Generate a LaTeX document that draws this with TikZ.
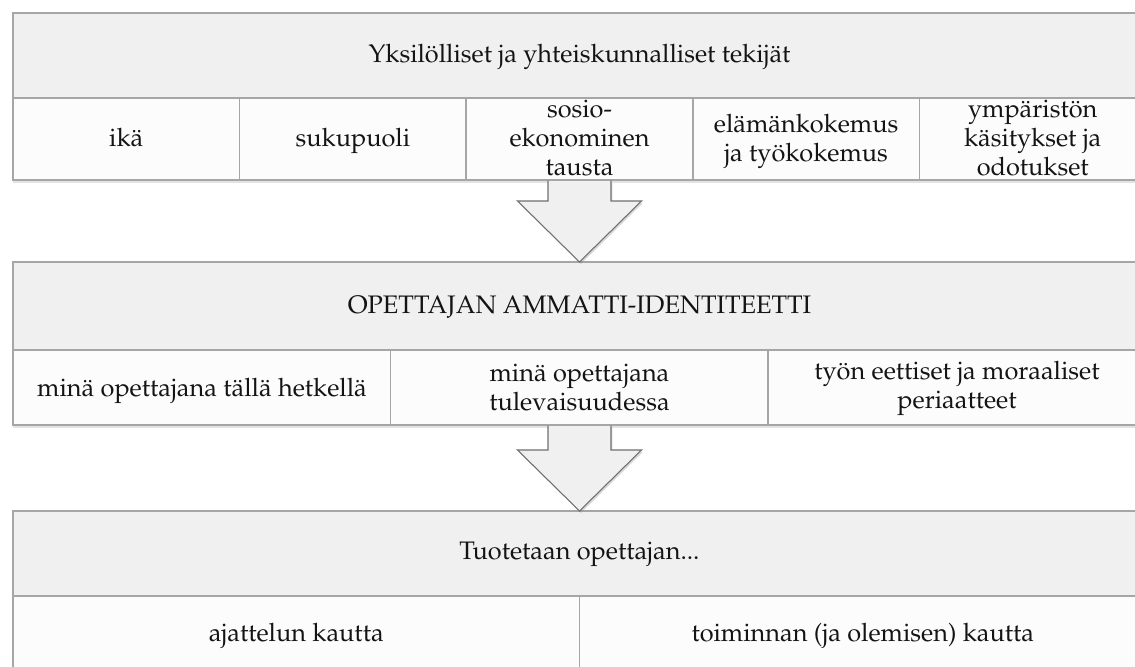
\documentclass[tikz,border=0pt]{standalone}
\usepackage[T1]{fontenc}
\usepackage{mathpazo}
\usetikzlibrary{shadows,calc}
\definecolor{hdr}{HTML}{F0F0F0}
\definecolor{cellf}{HTML}{FCFCFC}
\definecolor{bord}{HTML}{A6A6A6}
\definecolor{arrd}{HTML}{707070}
\tikzset{
  box/.style={draw=bord, line width=1.1pt, inner sep=0pt, outer sep=0pt},
  blockbox/.style={box, fill=cellf, drop shadow={opacity=0.22, shadow xshift=0pt, shadow yshift=-2pt}},
  hdrbox/.style={box, fill=hdr},
  cellbox/.style={box, fill=cellf},
  txt/.style={inner sep=0pt, align=center, font=\fontsize{19}{21.75}\selectfont, text=black!92},
  arrowfill/.style={fill=hdr, drop shadow={opacity=0.3, shadow xshift=1pt, shadow yshift=-1.5pt}},
  arrowline/.style={draw=arrd, line width=0.8pt, line join=miter},
}
\begin{document}
\begin{tikzpicture}[x=0.75pt,y=-0.75pt]
\useasboundingbox (0,0) rectangle (1135,667);
\clip (0,0) rectangle (1135,667);
\fill[white] (0,0) rectangle (1135,667);

% ---------- block 1 ----------
\node[blockbox, minimum width=849.75pt, minimum height=125.25pt] (bk1) at (579.5,96.5) {};
\node[hdrbox, minimum width=849.75pt, minimum height=63.75pt] (h1) at (579.5,55.5) {};
\foreach \i/\cx in {1/126.3,2/352.9,3/579.5,4/806.1,5/1032.7}{
  \node[cellbox, minimum width=169.95pt, minimum height=61.5pt] (c\i) at (\cx,139) {};
}
\node[txt] (th1) at ($(h1.center)+(0,1)$) {Yksilölliset ja yhteiskunnalliset tekijät};
\node[txt] (t1) at ($(c1.center)+(0,2)$) {\strut ikä};
\node[txt] (t2) at ($(c2.center)+(0,2)$) {\strut sukupuoli};
\begin{scope}
  \clip (c3.north west) rectangle (c3.south east);
  \node[txt] (t3) at ($(c3.center)+(0,2)$) {\strut sosio-\\\strut ekonominen\\\strut tausta};
\end{scope}
\node[txt] (t4) at ($(c4.center)+(0,2)$) {\strut elämänkokemus\\\strut ja työkokemus};
\begin{scope}
  \clip (c5.north west) rectangle (c5.south east);
  \node[txt] (t5) at ($(c5.center)+(0,2)$) {\strut ympäristön\\\strut käsitykset ja\\\strut odotukset};
\end{scope}
\draw[box] (c1.north west) -- (c1.south west);

% ---------- block 2 ----------
\node[blockbox, minimum width=849.75pt, minimum height=122.25pt] (bk2) at (579.5,343.5) {};
\node[hdrbox, minimum width=849.75pt, minimum height=66pt] (h2) at (579.5,306) {};
\foreach \i/\cx in {1/202,2/579.5,3/957}{
  \node[cellbox, minimum width=283.25pt, minimum height=56.25pt] (d\i) at (\cx,387.5) {};
}
\node[txt] (th2) at ($(h2.center)+(0,1)$) {OPETTAJAN AMMATTI-IDENTITEETTI};
\node[txt] (u1) at ($(d1.center)+(0,3)$) {\strut minä opettajana tällä hetkellä};
\node[txt] (u2) at ($(d2.center)+(0,2.5)$) {\strut minä opettajana\\\strut tulevaisuudessa};
\node[txt] (u3) at ($(d3.center)+(0,1)$) {\strut työn eettiset ja moraaliset\\\strut periaatteet};

% ---------- block 3 ----------
\node[blockbox, minimum width=849.75pt, minimum height=123pt] (bk3) at (579.5,593) {};
\node[hdrbox, minimum width=849.75pt, minimum height=63.75pt] (h3) at (579.5,553.5) {};
\foreach \i/\cx in {1/296.25,2/862.75}{
  \node[cellbox, minimum width=424.875pt, minimum height=59.25pt] (e\i) at (\cx,635.5) {};
}
\node[txt] (th3) at ($(h3.center)+(0,1)$) {Tuotetaan opettajan...};
\node[txt] (v1) at ($(e1.center)+(0,0.5)$) {\strut ajattelun kautta};
\node[txt] (v2) at ($(e2.center)+(0,0.5)$) {\strut toiminnan (ja olemisen) kautta};

% ---------- arrows ----------
\foreach \a/\b in {bk1/bk2, bk2/bk3}{
  \fill[arrowfill] ($(\a.south)+(-31.5,1)$) -- ($(\b.north)+(-31.5,-61)$) -- ($(\b.north)+(-62,-61)$)
     -- (\b.north) -- ($(\b.north)+(62,-61)$) -- ($(\b.north)+(31.5,-61)$) -- ($(\a.south)+(31.5,1)$) -- cycle;
  \draw[arrowline] ($(\a.south)+(-31.5,0.5)$) -- ($(\b.north)+(-31.5,-61)$) -- ($(\b.north)+(-62,-61)$)
     -- (\b.north) -- ($(\b.north)+(62,-61)$) -- ($(\b.north)+(31.5,-61)$) -- ($(\a.south)+(31.5,0.5)$);
}
\end{tikzpicture}
\end{document}
